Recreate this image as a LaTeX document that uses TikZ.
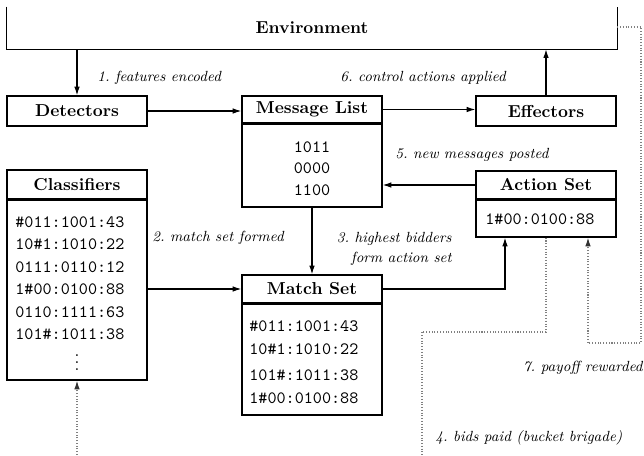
\documentclass[tikz,border=0pt]{standalone}
\usetikzlibrary{arrows.meta,calc}
\begin{document}
\begin{tikzpicture}[x=0.578pt,y=-0.578pt,
  box/.style={draw,line width=0.8pt,rectangle,inner sep=0pt,minimum width=140*0.578pt},
  hdr/.style={box,font=\bfseries},
  lbl/.style={font=\fontsize{8.5}{10}\selectfont\itshape,inner sep=0pt},
  tt/.style={font=\ttfamily,inner sep=0pt},
  arr/.style={line width=0.6pt,-{Latex[length=5pt,width=3.2pt]}},
  dot/.style={densely dotted,gray,line width=0.6pt},
  darr/.style={dot,-{Latex[length=5pt,width=3.2pt,color=black!80]}}]
\useasboundingbox (0,0) rectangle (644,455);
% Environment (open at top)
\node[inner sep=0pt,minimum width=610*0.578pt,minimum height=42*0.578pt,font=\bfseries] (env) at (312,28) {Environment};
\draw[line width=0.8pt] (env.north west) -- (env.south west) -- (env.south east) -- (env.north east);
% top row
\node[hdr,minimum height=30*0.578pt] (det) at (77,111) {Detectors};
\node[hdr,minimum height=27*0.578pt] (mlh) at (312,109.5) {Message List};
\node[box,minimum height=84*0.578pt] (mlb) at (312,165) {};
\node[hdr,minimum height=30*0.578pt] (eff) at (546,111) {Effectors};
\draw[line width=1.6pt] (mlh.south west) -- (mlh.south east);
\node[tt] (m1) at (312,147) {1011};
\node[tt] (m2) at (312,168) {0000};
\node[tt] (m3) at (312,190) {1100};
% Action set
\node[hdr,minimum height=28*0.578pt] (ash) at (546,185) {Action Set};
\node[box,minimum height=38*0.578pt] (asb) at (546,218) {};
\draw[line width=1.6pt] (ash.south west) -- (ash.south east);
\node[tt,anchor=west] (a1) at (485,219) {1\#00:0100:88};
% Classifiers
\node[hdr,minimum height=29*0.578pt] (clh) at (77,184.5) {Classifiers};
\node[box,minimum height=181*0.578pt] (clb) at (77,289.5) {};
\draw[line width=1.6pt] (clh.south west) -- (clh.south east);
\node[tt,anchor=west] (c1) at (15,222) {\#011:1001:43};
\node[tt,anchor=west] (c2) at (15,244.5) {10\#1:1010:22};
\node[tt,anchor=west] (c3) at (15,267) {0111:0110:12};
\node[tt,anchor=west] (c4) at (15,289.5) {1\#00:0100:88};
\node[tt,anchor=west] (c5) at (15,312) {0110:1111:63};
\node[tt,anchor=west] (c6) at (15,334) {101\#:1011:38};
\node[inner sep=0pt] (c7) at (77,357) {$\vdots$};
% Match set
\node[hdr,minimum height=28*0.578pt] (msh) at (312,289) {Match Set};
\node[box,minimum height=112*0.578pt] (msb) at (312,359) {};
\draw[line width=1.6pt] (msh.south west) -- (msh.south east);
\node[tt,anchor=west] (s1) at (249,326) {\#011:1001:43};
\node[tt,anchor=west] (s2) at (249,349) {10\#1:1010:22};
\node[tt,anchor=west] (s3) at (249,375) {101\#:1011:38};
\node[tt,anchor=west] (s4) at (249,398) {1\#00:0100:88};
% coordinates
\coordinate (bidx) at (505,0);
\coordinate (payx) at (588,0);
\coordinate (d1) at (546,332);
\coordinate (d2) at (422,332);
\coordinate (d3) at (422,455);
\coordinate (r1) at (641,27);
\coordinate (r2) at (641,343);
\coordinate (r3) at (588,343);
\coordinate (b0) at (77,455);
% connectors
\draw[arr] (env.south -| det.north) -- (det.north);
\draw[arr] (det.east) -- (det.east -| mlh.west);
\draw[arr] (mlh.east) -- (mlh.east -| eff.west);
\draw[arr] (eff.north) -- (eff.north |- env.south);
\draw[arr] (ash.west) -- (ash.west -| mlb.east);
\draw[arr] (mlb.south) -- (msh.north);
\draw[arr] (clb.east |- msh.west) -- (msh.west);
\draw[arr] (msh.east) -| (asb.south -| bidx);
\draw[dot] (asb.south) -- (d1) -- (d2) -- (d3);
\draw[darr] (env.east |- r1) -- (r1) -- (r2) -- (r3) -- (asb.south -| payx);
\draw[darr] (b0) -- (clb.south);
% labels
\node[lbl,anchor=west] (l1) at (97,78) {1.\ features encoded};
\node[lbl,anchor=west] (l6) at (340,78) {6.\ control actions applied};
\node[lbl,anchor=west] (l5) at (395,155) {5.\ new messages posted};
\node[lbl,anchor=west] (l2) at (152,238) {2.\ match set formed};
\node[lbl,anchor=east,align=right] (l3) at (452,248.5) {3.\ highest bidders\\[1.5pt]form action set};
\node[lbl,anchor=east] (l7) at (643,368) {7.\ payoff rewarded};
\node[lbl,anchor=west] (l4) at (435,438) {4.\ bids paid (bucket brigade)};
\end{tikzpicture}
\end{document}
